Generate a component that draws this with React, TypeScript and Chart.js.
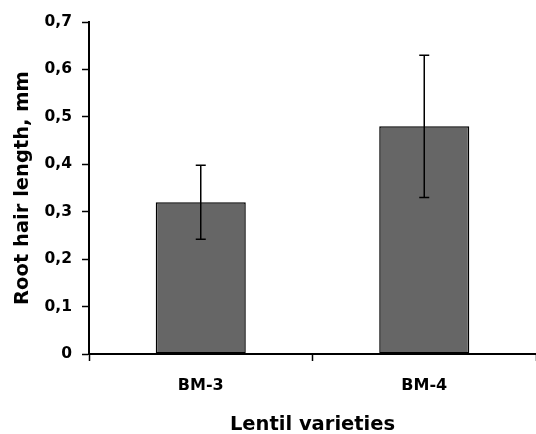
import { useEffect, useRef } from 'react';
import { Chart, registerables } from 'chart.js';

Chart.register(...registerables);

const categories = ['BM-3', 'BM-4'];
const means = [0.32, 0.48];
const errors = [0.078, 0.15];
const yAxisTitle = 'Root hair length, mm';
const xAxisTitle = 'Lentil varieties';

const FONT = 'DejaVu Sans';

export default function App() {
  const ref = useRef<HTMLCanvasElement>(null);

  useEffect(() => {
    document.body.style.margin = '0';
    const errorBars = {
      id: 'errorBars',
      afterDatasetsDraw(chart: any) {
        const ctx = chart.ctx;
        const meta = chart.getDatasetMeta(0);
        const y = chart.scales.y;
        ctx.save();
        ctx.strokeStyle = '#000';
        ctx.lineWidth = 1.5;
        meta.data.forEach((bar: any, i: number) => {
          const x = bar.x;
          const top = y.getPixelForValue(means[i] + errors[i]);
          const bot = y.getPixelForValue(means[i] - errors[i]);
          ctx.beginPath();
          ctx.moveTo(x, top);
          ctx.lineTo(x, bot);
          ctx.moveTo(x - 5, top);
          ctx.lineTo(x + 5, top);
          ctx.moveTo(x - 5, bot);
          ctx.lineTo(x + 5, bot);
          ctx.stroke();
        });
        ctx.restore();
      },
    };

    const chart = new Chart(ref.current as HTMLCanvasElement, {
      type: 'bar',
      data: {
        labels: categories,
        datasets: [
          {
            data: means,
            backgroundColor: '#666666',
            borderColor: '#000000',
            borderWidth: 1.5,
            borderSkipped: false,
            barPercentage: 0.403,
            categoryPercentage: 1,
          },
        ],
      },
      options: {
        responsive: false,
        animation: false,
        layout: { padding: { top: 22, right: 0, bottom: 0, left: 0 } },
        plugins: {
          legend: { display: false },
          tooltip: { enabled: false },
        },
        scales: {
          x: {
            offset: true,
            afterFit(scale: any) {
              scale.height = 80;
            },
            grid: {
              offset: true,
              drawOnChartArea: false,
              drawTicks: true,
              tickLength: 7,
              tickColor: '#000',
              tickWidth: 1.5,
            },
            border: { color: '#000', width: 2 },
            ticks: {
              color: '#000',
              padding: 15,
              font: { family: FONT, weight: 'bold', size: 16 },
            },
            title: {
              display: true,
              text: xAxisTitle,
              color: '#000',
              padding: { top: 0, bottom: -1 },
              font: { family: FONT, weight: 'bold', size: 19.5, lineHeight: 1 },
            },
          },
          y: {
            min: 0,
            max: 0.7,
            afterFit(scale: any) {
              scale.width = 89;
            },
            grid: {
              drawOnChartArea: false,
              drawTicks: true,
              tickLength: 7,
              tickColor: '#000',
              tickWidth: 1.5,
            },
            border: { color: '#000', width: 2 },
            ticks: {
              stepSize: 0.1,
              color: '#000',
              padding: 10,
              font: { family: FONT, weight: 'bold', size: 15.5 },
              callback: (v: any) => (Number(v) === 0 ? '0' : Number(v).toFixed(1).replace('.', ',')),
            },
            title: {
              display: true,
              text: yAxisTitle,
              color: '#000',
              padding: { top: 13, bottom: 0 },
              font: { family: FONT, weight: 'bold', size: 19.5, lineHeight: 1 },
            },
          },
        },
      },
      plugins: [errorBars],
    } as any);

    return () => chart.destroy();
  }, []);

  return (
    <div style={{ width: 536, height: 434 }}>
      <canvas ref={ref} width={536} height={434} />
    </div>
  );
}
